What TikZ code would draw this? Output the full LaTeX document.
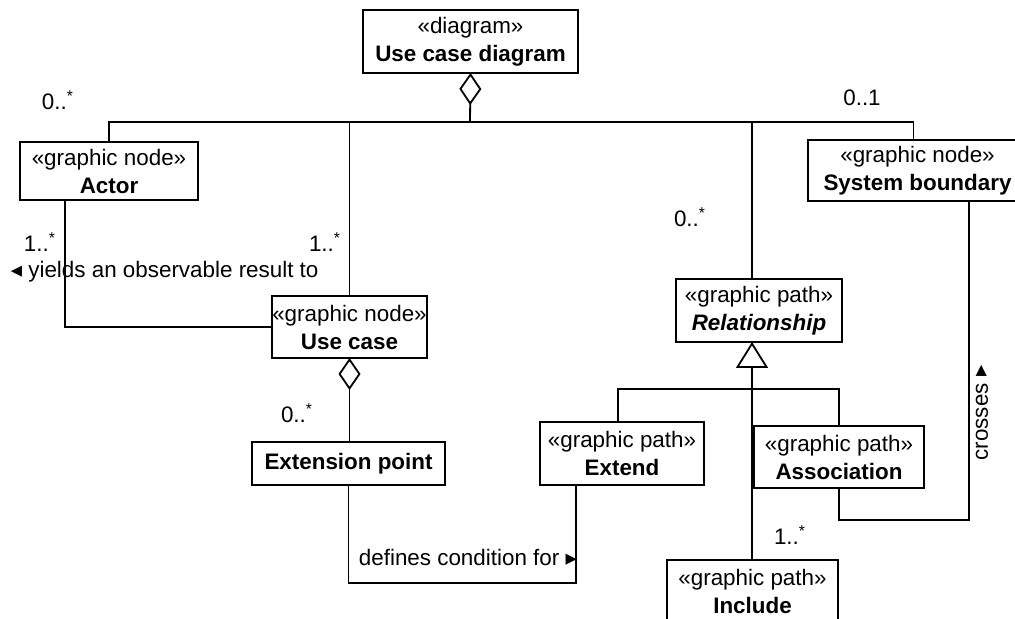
\documentclass[tikz,border=0pt]{standalone}
\usepackage{fontspec}
\setmainfont{Liberation Sans}
\newfontfamily\symfont{DejaVu Sans}
\usetikzlibrary{arrows.meta, calc}

\begin{document}
\begin{tikzpicture}[
        x=0.5pt, y=-0.5pt,
        line width=0.9pt,
        font=\fontsize{11.2}{14}\selectfont,
        box/.style={
            draw,
            rectangle,
            align=center,
            inner sep=0pt,
            outer sep=0pt,
        },
        mult/.style={
            inner sep=0pt,
        },
        agg/.style={
            {Diamond[open, length=16pt, width=11pt]}-,
        },
        gen/.style={
            -{Triangle[open, length=13pt, width=16pt]},
        },
    ]

    \useasboundingbox (0, 0) rectangle (1015, 619);
    \clip (0, 0) rectangle (1015, 619);

    \node[box, minimum width=107.5pt, minimum height=31.5pt] (diag) at (470.5, 41.5) {«diagram»\\ \textbf{Use case diagram}};
    \node[box, minimum width=89pt, minimum height=29pt] (actor) at (109, 171) {«graphic node»\\ \textbf{Actor}};
    \node[box, minimum width=109.5pt, minimum height=30.5pt] (sysb) at (917.5, 170.5) {«graphic node»\\ \textbf{System boundary}};
    \node[box, minimum width=77.5pt, minimum height=31pt] (usecase) at (349.5, 327) {«graphic node»\\ \textbf{Use case}};
    \node[box, minimum width=96.5pt, minimum height=21.5pt] (extpt) at (348.5, 463.5) {\textbf{Extension point}};
    \node[box, minimum width=83pt, minimum height=31.5pt] (rel) at (759, 310.5) {«graphic path»\\ \textbf{\textit{Relationship}}};
    \node[box, minimum width=82pt, minimum height=31.5pt] (extend) at (622, 453.5) {«graphic path»\\ \textbf{Extend}};
    \node[box, minimum width=85pt, minimum height=31pt] (assoc) at (839, 457) {«graphic path»\\ \textbf{Association}};
    \node[box, minimum width=85.5pt, minimum height=31pt] (include) at (752.5, 591) {«graphic path»\\ \textbf{Include}};

    \coordinate (bus) at (470, 122);
    \coordinate (relx) at (752, 0);
    \coordinate (genbus) at (752, 389);
    \coordinate (defc) at (576, 583);
    \coordinate (crc) at (969, 520);

    % diagram parts
    \draw[agg] (diag.south) -- (bus);
    \draw (actor.north) |- (bus) -| ([xshift=-2pt]sysb.north);
    \draw (bus -| usecase.north) -- (usecase.north);
    \draw (bus -| relx) -- (relx |- rel.north);

    \draw ([xshift=-22pt]actor.south) |- (usecase.west);
    \draw[agg] (usecase.south) -- (usecase.south |- extpt.north);
    \draw (extpt.south) |- (defc) -- (defc |- extend.south);

    % relationships
    \draw[gen] (include.north -| relx) -- (relx |- rel.south);
    \draw ([xshift=-2pt]extend.north) |- (genbus) -| (assoc.north);
    \draw (assoc.south) |- (crc) -- (crc |- sysb.south);

    \node[mult] (m1) at (58, 100) {0..\textsuperscript{*}};
    \node[mult] (m2) at (862, 98) {0..1};
    \node[mult] (m3) at (40, 242) {1..\textsuperscript{*}};
    \node[mult] (m4) at (325, 242) {1..\textsuperscript{*}};
    \node[mult] (m5) at (690, 217) {0..\textsuperscript{*}};
    \node[mult] (m6) at (297, 413) {0..\textsuperscript{*}};
    \node[mult] (m7) at (790, 535) {1..\textsuperscript{*}};
    \node[mult, anchor=west] (yields) at (10, 272) {{\symfont ◂} yields an observable result to};
    \node[mult, anchor=west] (defines) at (358, 557) {defines condition for {\symfont ▸}};
    \node[mult, rotate=90] (crosses) at (982, 413) {crosses {\symfont ▸}};
\end{tikzpicture}
\end{document}
